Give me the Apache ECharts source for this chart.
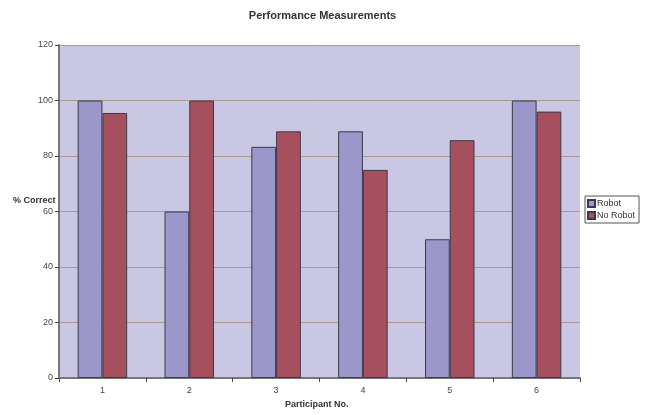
<!DOCTYPE html>
<html>
<head>
<meta charset="utf-8">
<script src="https://cdn.jsdelivr.net/npm/echarts@6/dist/echarts.min.js"></script>
<style>
html,body{margin:0;padding:0;background:#fff;}
#chart{width:645px;height:415px;}
</style>
</head>
<body>
<div id="chart"></div>
<script>
// Participants and percentage of correct answers per condition
const participants = ['1', '2', '3', '4', '5', '6'];
const robot = [100, 60, 83.3, 88.9, 50, 100];
const noRobot = [95.5, 100, 88.9, 75, 85.7, 96];
const yTicks = { min: 0, max: 120, interval: 20 };

const font = 'Liberation Sans, Arial, sans-serif';
const chart = echarts.init(document.getElementById('chart'));

const barStyle = (color) => ({
  color: color,
  borderColor: '#3a3a48',
  borderWidth: 1
});

chart.setOption({
  animation: false,
  backgroundColor: '#ffffff',
  title: {
    text: 'Performance Measurements',
    left: 'center',
    top: 5,
    textStyle: { fontFamily: font, fontSize: 11, fontWeight: 'bold', color: '#333' }
  },
  legend: {
    orient: 'vertical',
    left: 585,
    top: 196,
    itemWidth: 7,
    itemHeight: 7,
    itemGap: 3,
    padding: [3, 4, 3, 2],
    borderColor: '#555',
    borderWidth: 1,
    borderRadius: 0,
    icon: 'rect',
    textStyle: { fontFamily: font, fontSize: 9, color: '#333', padding: [0, 0, 0, -3] },
    data: ['Robot', 'No Robot']
  },
  grid: { left: 59, right: 65, top: 45, bottom: 37, containLabel: false,
          show: true, backgroundColor: '#c9c7e3', borderWidth: 0 },
  graphic: [
    { type: 'text', left: 13, top: 196,
      style: { text: '% Correct', font: 'bold 9px ' + font, fill: '#333' } },
    { type: 'text', left: 285, top: 400,
      style: { text: 'Participant No.', font: 'bold 9px ' + font, fill: '#333' } }
  ],
  xAxis: {
    type: 'category',
    data: participants,
    axisLine: { lineStyle: { color: '#777', width: 2 } },
    axisTick: { show: true, alignWithLabel: false, length: 4, lineStyle: { color: '#444' } },
    axisLabel: { fontFamily: font, fontSize: 9, color: '#444', margin: 8 },
    splitLine: { show: false }
  },
  yAxis: {
    type: 'value',
    min: yTicks.min,
    max: yTicks.max,
    interval: yTicks.interval,
    axisLine: { show: true, lineStyle: { color: '#777', width: 2 } },
    axisTick: { show: true, length: 4, lineStyle: { color: '#444' } },
    axisLabel: { fontFamily: font, fontSize: 9, color: '#444', margin: 6 },
    splitLine: { show: true, lineStyle: { color: '#a89a90', width: 1 } }
  },
  series: [
    { name: 'Robot', type: 'bar', data: robot, itemStyle: barStyle('#9b97cb'),
      barGap: '0%', barCategoryGap: '43%' },
    { name: 'No Robot', type: 'bar', data: noRobot, itemStyle: barStyle('#a6505f'),
      barGap: '0%', barCategoryGap: '43%' }
  ]
});
</script>
</body>
</html>
